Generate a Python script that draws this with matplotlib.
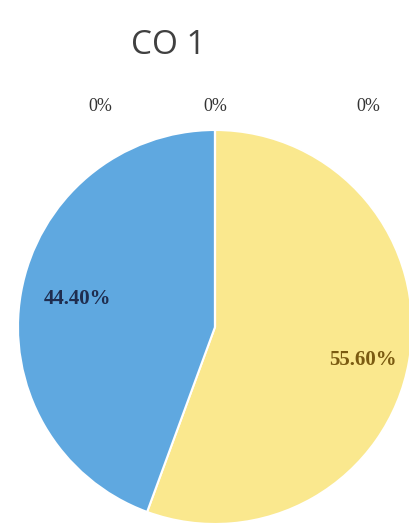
import matplotlib
matplotlib.use("Agg")
import matplotlib.pyplot as plt

# CO 1 shares (clockwise from 12 o'clock)
categories = ["A", "B", "C", "D", "E"]
shares = [55.6, 44.4, 0.0, 0.0, 0.0]
colors = ["#FAE88E", "#5FA8E0", "#A5A5A5", "#FFC000", "#4472C4"]
title = "CO 1"

# where each percentage label sits (pie radius = 1)
label_pos = [(0.75, -0.17), (-0.70, 0.14), (0.0, 1.12), (-0.58, 1.12), (0.78, 1.12)]
label_col = ["#7A5A10", "#1F2D4F", "#333333", "#333333", "#333333"]

fig = plt.figure(figsize=(4.09, 5.28), dpi=100)
ax = fig.add_axes([18/409, 4/528, 394/409, 394/528])

wedges, texts, autotexts = ax.pie(
    shares, colors=colors, startangle=90, counterclock=False,
    autopct=lambda p: "%.2f%%" % p if p > 0 else "0%",
    wedgeprops={"edgecolor": "white", "linewidth": 1.5})

for t, pos, c, v in zip(autotexts, label_pos, label_col, shares):
    t.set_position(pos)
    t.set_color(c)
    t.set_family("Liberation Serif")
    if v > 0:
        t.set_fontsize(15)
        t.set_fontweight("bold")
    else:
        t.set_fontsize(13)
ax.set_xlim(-1, 1)
ax.set_ylim(-1, 1)
ax.set_aspect("equal")

fig.text(168/409, 1 - 45/528, title, ha="center", va="center", fontsize=24,
         family="Open Sans", color="#404040")

fig.savefig("out.png", dpi=100)
